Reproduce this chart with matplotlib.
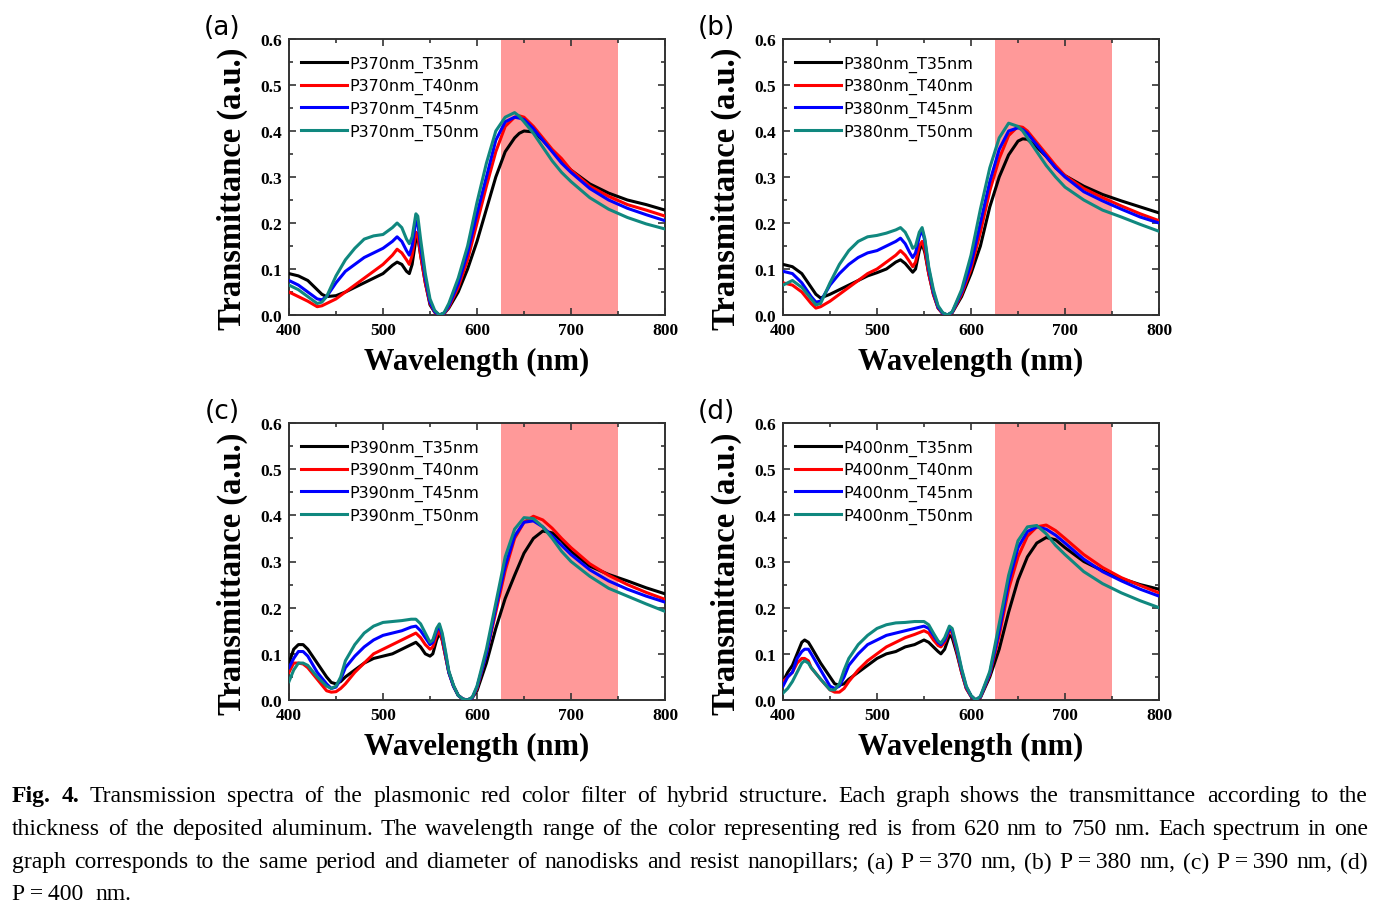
import numpy as np
import matplotlib
matplotlib.use("Agg")
import matplotlib.pyplot as plt
from matplotlib.ticker import MultipleLocator

# ---- data (wavelength in nm, transmittance in a.u.) ----
thickness = ["T35nm", "T40nm", "T45nm", "T50nm"]
periods = ["370", "380", "390", "400"]
panel_tags = ["(a)", "(b)", "(c)", "(d)"]
red_band = (625, 750)

# (a) P = 370 nm
wl_a = [400, 410, 420, 430, 435, 440, 450, 460, 470, 480, 490, 500, 510, 515, 520, 525, 528, 531, 535, 537,
        540, 545, 550, 555, 560, 565, 570, 580, 590, 600, 610, 620, 630, 640, 645, 650, 660, 670, 680, 690,
        700, 720, 740, 760, 780, 800]
a_t35 = [.09, .085, .075, .055, .045, .04, .042, .05, .06, .07, .08, .09, .108, .115, .11, .095, .09, .11, .165, .17,
         .13, .07, .022, .006, .0, .003, .015, .05, .1, .16, .23, .3, .355, .385, .395, .4, .398, .38, .357, .335,
         .315, .285, .265, .25, .24, .228]
a_t40 = [.05, .04, .03, .018, .02, .025, .035, .05, .065, .08, .095, .11, .13, .143, .135, .12, .11, .13, .18, .175,
         .13, .07, .025, .006, .0, .003, .017, .06, .12, .2, .28, .355, .41, .43, .433, .43, .41, .385, .36, .34,
         .315, .28, .258, .24, .228, .215]
a_t45 = [.075, .065, .05, .035, .033, .04, .07, .095, .11, .125, .135, .145, .16, .17, .16, .14, .13, .15, .205, .2,
         .15, .08, .028, .007, .0, .004, .02, .068, .135, .22, .3, .38, .42, .43, .428, .425, .405, .38, .355, .33,
         .31, .275, .25, .232, .218, .205]
a_t50 = [.065, .055, .04, .025, .028, .04, .085, .12, .145, .165, .172, .175, .19, .2, .19, .165, .155, .17, .22, .215,
         .165, .09, .035, .01, .0, .005, .025, .08, .15, .245, .33, .4, .43, .44, .432, .42, .395, .365, .335, .31,
         .29, .255, .23, .212, .198, .187]

# (b) P = 380 nm
wl_b = [400, 410, 420, 430, 435, 440, 450, 460, 470, 480, 490, 500, 510, 520, 525, 530, 535, 538, 541, 545,
        548, 551, 555, 560, 565, 570, 575, 580, 590, 600, 610, 620, 630, 640, 650, 655, 660, 670, 680, 690,
        700, 720, 740, 760, 780, 800]
b_t35 = [.11, .105, .09, .06, .045, .037, .045, .055, .065, .075, .085, .092, .1, .115, .12, .112, .1, .093, .1, .14,
         .155, .135, .09, .045, .015, .003, .0, .005, .04, .09, .15, .235, .3, .348, .378, .383, .382, .365, .345, .32,
         .303, .28, .262, .248, .235, .222]
b_t40 = [.07, .065, .05, .025, .015, .018, .03, .045, .06, .075, .09, .1, .115, .13, .14, .13, .115, .105, .115, .15,
         .16, .14, .09, .045, .015, .003, .0, .005, .045, .1, .18, .27, .34, .39, .41, .408, .4, .375, .35, .325,
         .303, .275, .255, .237, .22, .205]
b_t45 = [.095, .09, .07, .04, .028, .03, .065, .09, .11, .125, .135, .14, .15, .16, .167, .155, .135, .125, .135, .17,
         .185, .16, .1, .05, .017, .004, .0, .006, .05, .11, .2, .29, .36, .4, .407, .403, .395, .37, .345, .32,
         .3, .268, .248, .23, .213, .2]
b_t50 = [.065, .075, .06, .035, .022, .025, .07, .11, .14, .16, .17, .173, .178, .185, .19, .18, .16, .145, .15, .18,
         .19, .165, .105, .055, .02, .005, .0, .007, .055, .13, .23, .32, .385, .417, .41, .4, .385, .355, .325, .3,
         .278, .25, .228, .213, .197, .182]

# (c) P = 390 nm
wl_c = [400, 405, 410, 415, 420, 430, 440, 445, 450, 455, 460, 470, 480, 490, 500, 510, 520, 530, 535, 540,
        545, 550, 553, 557, 560, 563, 567, 570, 575, 580, 585, 590, 595, 600, 610, 620, 630, 640, 650, 660,
        670, 680, 690, 700, 720, 740, 760, 780, 800]
c_t35 = [.08, .11, .12, .12, .11, .08, .05, .038, .035, .04, .05, .065, .08, .09, .095, .1, .11, .12, .125, .115,
         .1, .095, .1, .13, .145, .13, .09, .06, .03, .01, .002, .0, .005, .02, .08, .155, .22, .27, .318, .35,
         .366, .362, .345, .322, .29, .272, .258, .243, .23]
c_t40 = [.06, .08, .08, .078, .07, .045, .02, .017, .018, .025, .035, .06, .08, .1, .11, .12, .13, .14, .145, .135,
         .12, .11, .115, .14, .15, .13, .09, .06, .03, .01, .002, .0, .005, .025, .1, .19, .28, .35, .385, .398,
         .39, .372, .35, .33, .295, .27, .25, .233, .218]
c_t45 = [.07, .09, .105, .105, .095, .06, .035, .025, .028, .045, .07, .095, .115, .13, .14, .145, .15, .158, .16, .15,
         .135, .12, .125, .15, .16, .14, .095, .06, .03, .01, .002, .0, .005, .028, .1, .2, .29, .355, .385, .388,
         .375, .355, .335, .315, .282, .258, .24, .225, .212]
c_t50 = [.04, .065, .08, .08, .075, .05, .03, .025, .03, .05, .085, .12, .145, .16, .168, .17, .172, .175, .175, .165,
         .145, .125, .13, .155, .165, .145, .1, .063, .032, .01, .002, .0, .006, .03, .11, .21, .31, .37, .395, .393,
         .375, .35, .322, .3, .268, .242, .225, .208, .192]

# (d) P = 400 nm
wl_d = [400, 405, 410, 415, 420, 423, 427, 430, 440, 450, 455, 460, 465, 470, 480, 490, 500, 510, 520, 530,
        540, 550, 555, 560, 565, 568, 572, 577, 580, 585, 590, 595, 600, 605, 610, 620, 630, 640, 650, 660,
        670, 680, 690, 700, 720, 740, 760, 780, 800]
d_t35 = [.04, .06, .075, .1, .125, .13, .125, .115, .08, .05, .035, .032, .035, .045, .06, .075, .09, .1, .105, .115,
         .12, .13, .125, .115, .105, .1, .11, .14, .135, .1, .06, .025, .008, .0, .005, .05, .11, .19, .26, .31,
         .34, .352, .347, .33, .3, .28, .263, .25, .24]
d_t40 = [.04, .05, .06, .08, .09, .09, .085, .07, .045, .022, .017, .017, .025, .04, .065, .085, .1, .115, .125, .135,
         .142, .15, .145, .13, .118, .115, .125, .15, .145, .105, .06, .025, .008, .0, .006, .055, .14, .24, .31, .355,
         .375, .379, .367, .35, .315, .287, .265, .248, .232]
d_t45 = [.03, .05, .06, .09, .105, .11, .11, .1, .065, .03, .025, .03, .05, .075, .1, .12, .13, .14, .145, .15,
         .155, .16, .155, .14, .125, .12, .13, .155, .15, .11, .065, .028, .009, .0, .007, .058, .15, .255, .33, .365,
         .375, .37, .357, .34, .305, .278, .258, .24, .225]
d_t50 = [.015, .025, .04, .06, .08, .085, .08, .07, .045, .022, .022, .035, .065, .09, .12, .14, .155, .163, .167, .168,
         .17, .17, .163, .145, .128, .123, .135, .16, .155, .115, .068, .03, .01, .0, .008, .062, .165, .27, .345, .375,
         .378, .36, .335, .315, .278, .252, .232, .215, .2]

caption_lines = [
    "Transmission spectra of the plasmonic red color filter of hybrid structure. Each graph shows the transmittance according to the",
    "thickness of the deposited aluminum. The wavelength range of the color representing red is from 620 nm to 750 nm. Each spectrum in one",
    "graph corresponds to the same period and diameter of nanodisks and resist nanopillars; (a) P\u2009=\u2009370 nm, (b) P\u2009=\u2009380 nm, (c) P\u2009=\u2009390 nm, (d)",
    "P\u2009=\u2009400  nm.",
]

line_colors = ["#000000", "#FF0000", "#0000FF", "#10887F"]
panels = [
    (wl_a, [a_t35, a_t40, a_t45, a_t50]),
    (wl_b, [b_t35, b_t40, b_t45, b_t50]),
    (wl_c, [c_t35, c_t40, c_t45, c_t50]),
    (wl_d, [d_t35, d_t40, d_t45, d_t50]),
]

W, H = 1388, 912
fig = plt.figure(figsize=(W / 100, H / 100), dpi=100)
serif = ["Liberation Serif", "DejaVu Serif"]

# axes boxes in pixels: left, top, right, bottom
boxes = [(289, 40, 665, 316), (783, 40, 1159, 316), (289, 424, 665, 701), (783, 424, 1159, 701)]

for i, (box, (wl, curves)) in enumerate(zip(boxes, panels)):
    l, t, r, b = box
    ax = fig.add_axes([l / W, 1 - b / H, (r - l) / W, (b - t) / H])
    ax.axvspan(red_band[0], red_band[1], color="#FF9999", lw=0, zorder=0)
    for y, c, th in zip(curves, line_colors, thickness):
        ax.plot(wl, y, color=c, lw=2.2, label="P" + periods[i] + "nm_" + th, zorder=3)
    ax.set_xlim(400, 800)
    ax.set_ylim(0, 0.6)
    ax.xaxis.set_major_locator(MultipleLocator(100))
    ax.xaxis.set_minor_locator(MultipleLocator(50))
    ax.yaxis.set_major_locator(MultipleLocator(0.1))
    ax.yaxis.set_minor_locator(MultipleLocator(0.05))
    ax.tick_params(which="both", direction="in", top=True, right=True, color="#333333", width=1.2)
    ax.tick_params(which="major", length=5, pad=5)
    ax.tick_params(which="minor", length=3)
    ax.set_yticklabels(["%.1f" % v for v in ax.get_yticks()])
    for lab in ax.get_xticklabels() + ax.get_yticklabels():
        lab.set_fontfamily(serif)
        lab.set_fontweight("bold")
        lab.set_fontsize(12.5)
    for sp in ax.spines.values():
        sp.set_color("#333333")
        sp.set_linewidth(1.4)
    ax.set_xlabel("Wavelength (nm)", family=serif, weight="bold", fontsize=22)
    ax.set_ylabel("Transmittance (a.u.)", family=serif, weight="bold", fontsize=23.5)
    ax.xaxis.set_label_coords(0.5, -0.168)
    ax.xaxis.label.set_va("center")
    ax.yaxis.set_label_coords(-0.15, 0.46)
    ax.yaxis.label.set_va("center")
    leg = ax.legend(loc="upper left", bbox_to_anchor=(-0.018, 1.007), frameon=False,
                    prop={"family": "DejaVu Sans", "size": 11.5}, handlelength=2.9,
                    handletextpad=0.15, labelspacing=0.41, borderaxespad=0.75)
    fig.text((l - 67) / W, 1 - (t - 12) / H, panel_tags[i], ha="center", va="center",
             fontsize=19, family="DejaVu Sans")

# caption, justified like the printed text
renderer = fig.canvas.get_renderer()


def put_line(y_px, words, justify, first_bold=0, x0=12, x1=1368, size=17):
    texts = []
    for k, w in enumerate(words):
        texts.append(fig.text(0, 1 - y_px / H, w, fontsize=size, family=serif,
                              weight="bold" if k < first_bold else "normal", ha="left", va="center"))
    widths = [tx.get_window_extent(renderer).width for tx in texts]
    space = fig.text(0, 0, "a a", fontsize=size, family=serif)
    sp_w = space.get_window_extent(renderer).width
    space.remove()
    space = fig.text(0, 0, "aa", fontsize=size, family=serif)
    sp_w -= space.get_window_extent(renderer).width
    space.remove()
    gap = (x1 - x0 - sum(widths)) / (len(words) - 1) if justify else sp_w
    x = x0
    for tx, w in zip(texts, widths):
        tx.set_x(x / W)
        x += w + gap


put_line(797, ["Fig.", "4."] + caption_lines[0].split(" "), True, first_bold=2)
put_line(830, caption_lines[1].split(" "), True)
put_line(863, caption_lines[2].split(" "), True)
put_line(895, caption_lines[3].split(" "), False)

fig.savefig("out.png", dpi=100)
